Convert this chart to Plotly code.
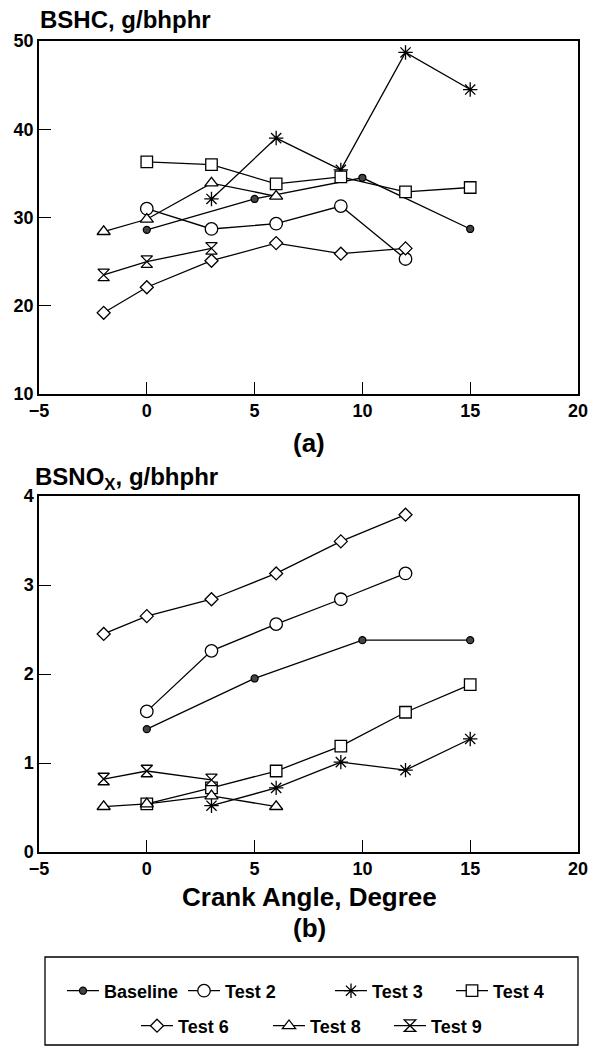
import plotly.graph_objects as go

# ---------------- data ----------------
series_names = ["Baseline", "Test 2", "Test 3", "Test 4", "Test 6", "Test 8", "Test 9"]

# (a) BSHC, g/bhphr
hc_baseline_x = [0, 5, 10, 15]
hc_baseline_y = [28.6, 32.1, 34.5, 28.7]
hc_test2_x = [0, 3, 6, 9, 12]
hc_test2_y = [31.0, 28.7, 29.3, 31.3, 25.3]
hc_test3_x = [3, 6, 9, 12, 15]
hc_test3_y = [32.1, 39.0, 35.4, 48.7, 44.5]
hc_test4_x = [0, 3, 6, 9, 12, 15]
hc_test4_y = [36.3, 36.0, 33.8, 34.6, 32.9, 33.4]
hc_test6_x = [-2, 0, 3, 6, 9, 12]
hc_test6_y = [19.2, 22.1, 25.1, 27.1, 25.9, 26.5]
hc_test8_x = [-2, 0, 3, 6]
hc_test8_y = [28.4, 29.8, 33.9, 32.4]
hc_test9_x = [-2, 0, 3]
hc_test9_y = [23.5, 25.0, 26.5]

# (b) BSNOx, g/bhphr
nox_baseline_x = [0, 5, 10, 15]
nox_baseline_y = [1.38, 1.95, 2.38, 2.38]
nox_test2_x = [0, 3, 6, 9, 12]
nox_test2_y = [1.58, 2.26, 2.56, 2.84, 3.13]
nox_test3_x = [3, 6, 9, 12, 15]
nox_test3_y = [0.52, 0.72, 1.01, 0.92, 1.27]
nox_test4_x = [0, 3, 6, 9, 12, 15]
nox_test4_y = [0.54, 0.72, 0.91, 1.19, 1.57, 1.88]
nox_test6_x = [-2, 0, 3, 6, 9, 12]
nox_test6_y = [2.45, 2.65, 2.84, 3.13, 3.49, 3.79]
nox_test8_x = [-2, 0, 3, 6]
nox_test8_y = [0.51, 0.54, 0.63, 0.51]
nox_test9_x = [-2, 0, 3]
nox_test9_y = [0.82, 0.91, 0.81]

x_tickvals = [-5, 0, 5, 10, 15, 20]
hc_tickvals = [10, 20, 30, 40, 50]
nox_tickvals = [0, 1, 2, 3, 4]

hc_data = [(hc_baseline_x, hc_baseline_y), (hc_test2_x, hc_test2_y), (hc_test3_x, hc_test3_y),
           (hc_test4_x, hc_test4_y), (hc_test6_x, hc_test6_y), (hc_test8_x, hc_test8_y),
           (hc_test9_x, hc_test9_y)]
nox_data = [(nox_baseline_x, nox_baseline_y), (nox_test2_x, nox_test2_y), (nox_test3_x, nox_test3_y),
            (nox_test4_x, nox_test4_y), (nox_test6_x, nox_test6_y), (nox_test8_x, nox_test8_y),
            (nox_test9_x, nox_test9_y)]

# ---------------- styles ----------------
styles = {
    "Baseline": dict(symbol="circle", size=7, color="#444444"),
    "Test 2": dict(symbol="circle", size=12.5, color="white"),
    "Test 3": dict(symbol="asterisk-open", size=12, color="black"),
    "Test 4": dict(symbol="square", size=11.5, color="white"),
    "Test 6": dict(symbol="diamond", size=10, color="white"),
    "Test 8": dict(symbol="triangle-up", size=11.5, color="white"),
    "Test 9": dict(symbol="hourglass", size=11.5, color="white"),
}

W, H = 591, 1048
FONT = "Liberation Sans"

# legend entry placement (px from top-left): left edge of each entry, row centre
legend_pos = [(62, 991), (183, 991), (330, 991), (451, 991),
              (136, 1026), (268, 1026), (389, 1026)]


def fx(p):
    return p / W


def fy(p):
    return 1 - p / H


fig = go.Figure()

for i, name in enumerate(series_names):
    st = styles[name]
    mk = dict(symbol=st["symbol"], size=st["size"], color=st["color"],
              line=dict(color="black", width=1.3))
    x, y = hc_data[i]
    fig.add_trace(go.Scatter(x=x, y=y, mode="lines+markers", name=name,
                             line=dict(color="black", width=1.3), marker=mk,
                             xaxis="x", yaxis="y", showlegend=False))
    x, y = nox_data[i]
    lg = "legend" if i == 0 else "legend%d" % (i + 1)
    fig.add_trace(go.Scatter(x=x, y=y, mode="lines+markers", name=name,
                             line=dict(color="black", width=1.3), marker=mk,
                             xaxis="x2", yaxis="y2", showlegend=True, legend=lg))

axis_common = dict(showline=True, linecolor="black", linewidth=1.5, mirror=True,
                   ticks="inside", ticklen=12, tickwidth=1.3, tickcolor="black",
                   showgrid=False, zeroline=False, automargin=False,
                   tickfont=dict(family=FONT, size=18, color="black", weight="bold"))

layout = dict(
    width=W, height=H,
    margin=dict(l=0, r=0, t=0, b=0, autoexpand=False),
    paper_bgcolor="white", plot_bgcolor="white",
    xaxis=dict(domain=[fx(39), fx(578)], range=[-5, 20], tickvals=x_tickvals,
               anchor="y", **axis_common),
    yaxis=dict(domain=[fy(394), fy(41)], range=[10, 50], tickvals=hc_tickvals,
               anchor="x", **axis_common),
    xaxis2=dict(domain=[fx(39), fx(578)], range=[-5, 20], tickvals=x_tickvals,
                anchor="y2", **axis_common),
    yaxis2=dict(domain=[fy(852), fy(496)], range=[0, 4], tickvals=nox_tickvals,
                anchor="x2", **axis_common),
    shapes=[dict(type="rect", xref="paper", yref="paper",
                 x0=fx(45), x1=fx(578), y0=fy(1045), y1=fy(957),
                 line=dict(color="black", width=1.3))],
)
for i, (lx, ly) in enumerate(legend_pos):
    key = "legend" if i == 0 else "legend%d" % (i + 1)
    layout[key] = dict(orientation="h", x=fx(lx), xanchor="left", y=fy(ly), yanchor="middle",
                       itemsizing="trace", itemwidth=32, borderwidth=0,
                       font=dict(family=FONT, size=18, color="black", weight="bold"),
                       bgcolor="rgba(0,0,0,0)")
fig.update_layout(**layout)

title_font = dict(family=FONT, size=24, color="black", weight="bold")
big_font = dict(family=FONT, size=26, color="black", weight="bold")
ann = [
    dict(text="BSHC, g/bhphr", x=fx(38), y=fy(20), xanchor="left", yanchor="middle", font=title_font),
    dict(text="BSNO<sub>X</sub>, g/bhphr", x=fx(33), y=fy(478), xanchor="left", yanchor="middle",
         font=title_font),
    dict(text="(a)", x=fx(309), y=fy(443), xanchor="center", yanchor="middle", font=big_font),
    dict(text="Crank Angle, Degree", x=fx(309), y=fy(897), xanchor="center", yanchor="middle",
         font=big_font),
    dict(text="(b)", x=fx(309), y=fy(928), xanchor="center", yanchor="middle", font=big_font),
]
for a in ann:
    fig.add_annotation(xref="paper", yref="paper", showarrow=False, **a)

fig.write_html("out.html", config={"displayModeBar": False},
               post_script="document.body.style.margin='0';document.body.style.padding='0';")
